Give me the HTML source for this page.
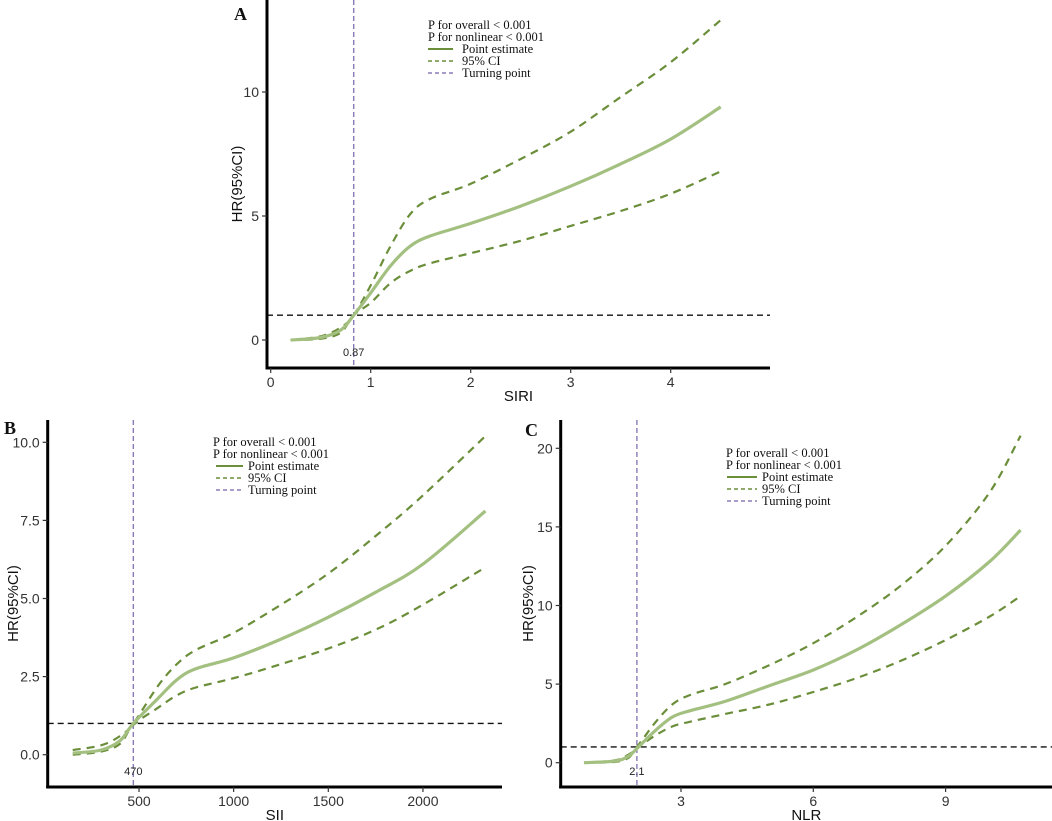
<!DOCTYPE html>
<html><head><meta charset="utf-8"><style>
body{margin:0;background:#fff;}
svg{display:block;}
text{font-family:"Liberation Sans",sans-serif;}
.leg{font-family:"Liberation Serif",serif;font-size:12.5px;fill:#111;}
.tick{font-size:14px;fill:#333;}
.ttl{font-size:15px;fill:#111;}
.lab{font-family:"Liberation Serif",serif;font-weight:bold;font-size:18px;fill:#111;}
</style></head><body>
<svg id="chart" width="1052" height="821" viewBox="0 0 1052 821" xmlns="http://www.w3.org/2000/svg"></svg>
<script>
// Panel A (SIRI)
const aX=[0.2,0.5,0.7,0.83,1.0,1.2,1.4,1.6,2.0,2.5,3.0,3.5,4.0,4.5];
const aEst=[0,0.1,0.4,1.0,1.9,3.0,3.8,4.2,4.7,5.4,6.2,7.1,8.1,9.4];
const aHi=[0,0.15,0.5,1.0,2.2,3.8,5.1,5.7,6.3,7.3,8.4,9.8,11.2,12.9];
const aLo=[0,0.05,0.3,1.0,1.5,2.3,2.8,3.1,3.5,4.0,4.6,5.2,5.9,6.8];
const aXTicks=[0,1,2,3,4];
const aYTicks=[0,5,10];
// Panel B (SII)
const bX=[150,300,400,470,600,700,800,1000,1250,1500,1750,2000,2330];
const bEst=[0.05,0.15,0.45,1.0,1.8,2.4,2.75,3.1,3.7,4.4,5.2,6.1,7.8];
const bHi=[0.15,0.3,0.6,1.0,2.2,2.9,3.35,3.9,4.8,5.8,7.0,8.3,10.2];
const bLo=[0.0,0.1,0.35,0.95,1.5,1.9,2.15,2.45,2.9,3.4,4.0,4.8,6.0];
const bXTicks=[500,1000,1500,2000];
const bYTicks=[0,2.5,5,7.5,10];
// Panel C (NLR)
const cX=[0.8,1.5,1.8,2.0,2.4,2.8,3.2,4,5,6,7,8,9,10,10.7];
const cEst=[0,0.1,0.4,0.9,2.0,2.9,3.3,3.9,4.9,5.9,7.2,8.8,10.6,12.8,14.8];
const cHi=[0,0.15,0.5,1.0,2.5,3.7,4.3,5.0,6.2,7.6,9.3,11.3,13.8,17.2,20.8];
const cLo=[0,0.05,0.3,0.9,1.7,2.3,2.6,3.1,3.7,4.5,5.4,6.5,7.8,9.3,10.6];
const cXTicks=[3,6,9];
const cYTicks=[0,5,10,15,20];

const NS="http://www.w3.org/2000/svg";
const svg=document.getElementById('chart');
function el(tag,attrs,parent,txt){const e=document.createElementNS(NS,tag);for(const k in attrs)e.setAttribute(k,attrs[k]);if(txt!==undefined)e.textContent=txt;(parent||svg).appendChild(e);return e;}
function smooth(pts){let d="M"+pts[0][0]+","+pts[0][1];for(let i=0;i<pts.length-1;i++){const p0=pts[Math.max(0,i-1)],p1=pts[i],p2=pts[i+1],p3=pts[Math.min(pts.length-1,i+2)];const c1=[p1[0]+(p2[0]-p0[0])/6,p1[1]+(p2[1]-p0[1])/6];const c2=[p2[0]-(p3[0]-p1[0])/6,p2[1]-(p3[1]-p1[1])/6];d+=" C"+c1[0].toFixed(1)+","+c1[1].toFixed(1)+" "+c2[0].toFixed(1)+","+c2[1].toFixed(1)+" "+p2[0].toFixed(1)+","+p2[1].toFixed(1);}return d;}

function panel(o){
  const g=el('g',{});
  
  
  const sx=v=>o.x0+(v-o.xv0)*o.kx, sy=v=>o.y0-v*o.ky;
  const r=el('line',{x1:o.axX,x2:o.axR,y1:sy(1),y2:sy(1),stroke:'#111','stroke-width':1.4,'stroke-dasharray':'6,4'},g);
  
  
  const t=el('line',{x1:sx(o.turn),x2:sx(o.turn),y1:o.axT,y2:o.axY,stroke:'#8a7bb8','stroke-width':1.4,'stroke-dasharray':'5,3'},g);
  
  
  const tl=el('text',{x:sx(o.turn),y:o.axY-12,'text-anchor':'middle','font-size':11,fill:'#222'},g,o.turnLabel);
  
  
  const mk=(arr,name,style)=>{const p=el('path',Object.assign({d:smooth(o.xs.map((x,i)=>[sx(x),sy(arr[i])])),fill:'none'},style),g);};
  mk(o.hi,'ci-upper-line',{stroke:'#6b8e3a','stroke-width':2.2,'stroke-dasharray':'8,6'});
  mk(o.lo,'ci-lower-line',{stroke:'#6b8e3a','stroke-width':2.2,'stroke-dasharray':'8,6'});
  mk(o.est,'point-estimate-line',{stroke:'#a3c081','stroke-width':3.2});
  const ya=el('line',{x1:o.axX,x2:o.axX,y1:o.axT,y2:o.axY+1.5,stroke:'#000','stroke-width':3},g);
  
  const xa=el('line',{x1:o.axX-1.5,x2:o.axR,y1:o.axY,y2:o.axY,stroke:'#000','stroke-width':3},g);
  
  o.xt.forEach(v=>{const x=sx(v);el('line',{x1:x,x2:x,y1:o.axY,y2:o.axY+5,stroke:'#333','stroke-width':1.2},g);
    const tx=el('text',{x:x,y:o.axY+19,'text-anchor':'middle',class:'tick'},g,String(v));
    });
  o.yt.forEach(v=>{const y=sy(v);el('line',{x1:o.axX-5,x2:o.axX,y1:y,y2:y,stroke:'#333','stroke-width':1.2},g);
    const tx=el('text',{x:o.axX-8,y:y+5,'text-anchor':'end',class:'tick'},g,o.yfmt(v));
    });
  const xtl=el('text',{x:(o.axX+o.axR)/2,y:o.axY+33,'text-anchor':'middle',class:'ttl'},g,o.xTitle);
  
  const ytl=el('text',{x:0,y:0,'text-anchor':'middle',class:'ttl',transform:`translate(${o.yTitleX},${(o.axT+o.axY)/2}) rotate(-90)`},g,'HR(95%CI)');
  
  const lb=el('text',{x:o.labX,y:o.labY,class:'lab'},g,o.id);
  
  const L=o.leg;
  const lg=el('g',{},g);
  
  el('text',{x:L.x,y:L.y,class:'leg'},lg,'P for overall < 0.001');
  el('text',{x:L.x,y:L.y+12,class:'leg'},lg,'P for nonlinear < 0.001');
  const ent=[['Point estimate',{stroke:'#6b8e3a','stroke-width':2}],['95% CI',{stroke:'#6b8e3a','stroke-width':1.6,'stroke-dasharray':'4,3'}],['Turning point',{stroke:'#8a7bb8','stroke-width':1.6,'stroke-dasharray':'4,3'}]];
  ent.forEach((e,i)=>{const y=L.y+24+i*12;const eg=el('g',{},lg);
    
    el('line',Object.assign({x1:L.lx1,x2:L.lx2,y1:y-4,y2:y-4},e[1]),eg);
    el('text',{x:L.tx,y:y,class:'leg'},eg,e[0]);});
}

panel({id:'A',xs:aX,est:aEst,hi:aHi,lo:aLo,xt:aXTicks,yt:aYTicks,yfmt:v=>String(v),
  x0:270.7,xv0:0,kx:100,y0:340,ky:24.8,axX:267,axR:770,axT:0,axY:368,turn:0.83,turnLabel:'0.87',
  xTitle:'SIRI',yTitleX:242,labX:234,labY:20,leg:{x:428,y:29,lx1:428,lx2:453,tx:462}});
panel({id:'B',xs:bX,est:bEst,hi:bHi,lo:bLo,xt:bXTicks,yt:bYTicks,yfmt:v=>v.toFixed(1),
  x0:139,xv0:500,kx:0.1893,y0:754.7,ky:31.24,axX:47.7,axR:502,axT:420,axY:787,turn:470,turnLabel:'470',
  xTitle:'SII',yTitleX:18,labX:4,labY:434,leg:{x:213,y:446,lx1:216,lx2:243,tx:248}});
panel({id:'C',xs:cX,est:cEst,hi:cHi,lo:cLo,xt:cXTicks,yt:cYTicks,yfmt:v=>String(v),
  x0:681,xv0:3,kx:44.1,y0:762.7,ky:15.72,axX:560.7,axR:1052,axT:420,axY:787,turn:2.0,turnLabel:'2.1',
  xTitle:'NLR',yTitleX:533,labX:525,labY:436,leg:{x:726,y:457,lx1:727,lx2:757,tx:762}});
</script>
</body></html>
